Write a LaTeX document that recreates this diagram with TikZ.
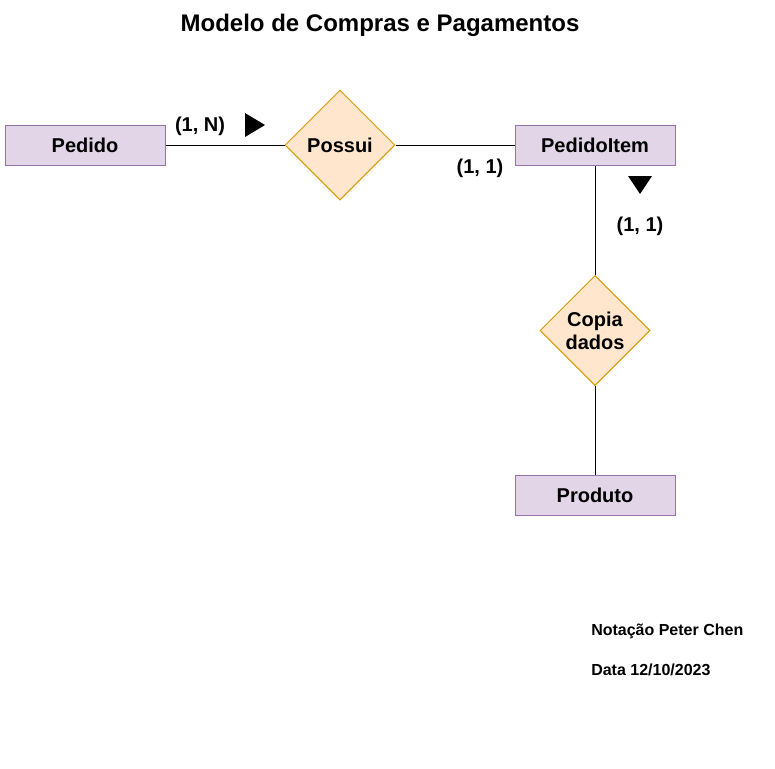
\documentclass[tikz,border=0pt]{standalone}
\usepackage{fontspec}
\setmainfont{Liberation Sans}
\usetikzlibrary{shapes.geometric}
\definecolor{entfill}{HTML}{E1D5E7}
\definecolor{entdraw}{HTML}{9673A6}
\definecolor{relfill}{HTML}{FFE6CC}
\definecolor{reldraw}{HTML}{D79B00}
\begin{document}
\begin{tikzpicture}[x=0.75pt,y=-0.75pt,
  entity/.style={rectangle,draw=entdraw,fill=entfill,line width=0.75pt,minimum width=120pt,minimum height=30pt,inner sep=0pt,font=\fontsize{15}{17}\selectfont\bfseries},
  rel/.style={diamond,draw=reldraw,fill=relfill,line width=0.75pt,minimum width=82.5pt,minimum height=82.5pt,inner sep=0pt,align=center,font=\fontsize{15}{17.25}\selectfont\bfseries},
  card/.style={font=\fontsize{15}{17}\selectfont\bfseries,inner sep=0pt},
  conn/.style={line width=0.75pt},
  note/.style={font=\fontsize{12}{14}\selectfont\bfseries,anchor=west,inner sep=0pt},
  tri/.style={fill=black}]
\useasboundingbox[fill=white] (0,0) rectangle (775,768);
\node[font=\fontsize{18}{21}\selectfont\bfseries] (title) at (380,25) {Modelo de Compras e Pagamentos};
\node[entity] (pedido) at (85,145) {Pedido};
\node[rel] (possui) at (340,145) {Possui};
\node[entity] (item) at (595,145) {PedidoItem};
\node[rel] (copia) at (595,330.5) {Copia\\dados};
\node[entity] (produto) at (595,495) {Produto};
\draw[conn] (pedido.east) -- (possui.west);
\draw[conn] (possui.east) -- (item.west);
\draw[conn] (item.south) -- (copia.north);
\draw[conn] (copia.south) -- (produto.north);
\node[card] (c1) at (200,126) {(1, N)};
\node[card] (c2) at (480,168) {(1, 1)};
\node[card] (c3) at (640,226) {(1, 1)};
\fill[tri] (245,113) -- (265,125) -- (245,137) -- cycle;
\fill[tri] (628,176) -- (652,176) -- (640,194) -- cycle;
\node[note] (n1) at (591,631) {Notação Peter Chen};
\node[note] (n2) at (591,670) {Data 12/10/2023};
\end{tikzpicture}
\end{document}
